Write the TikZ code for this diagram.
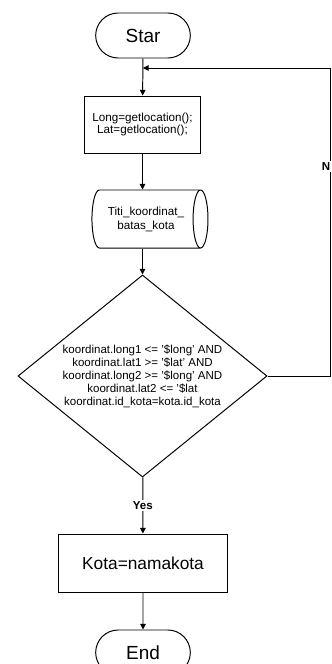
\documentclass[tikz,border=0pt]{standalone}
\usepackage{fontspec}
\setmainfont{Liberation Sans}
\usepackage{tikz}
\usetikzlibrary{shapes,shapes.geometric,shapes.misc,arrows.meta,positioning,calc}

\begin{document}
\begin{tikzpicture}[
    x=0.025cm, y=-0.025cm,
    term/.style={rounded rectangle, draw, line width=0.7pt, minimum width=2.6cm, minimum height=1.125cm, font=\fontsize{13.5}{15}\selectfont},
    proc/.style={rectangle, draw, line width=0.7pt, align=center},
    data/.style={cylinder, draw, line width=0.7pt, aspect=0.6, minimum width=1.45cm, minimum height=2.9cm, inner sep=0pt, align=center, font=\fontsize{8.3}{10}\selectfont},
    decision/.style={diamond, draw, line width=0.7pt, aspect=1.23, inner sep=0pt, minimum width=6.225cm, minimum height=5.05cm, align=center, font=\fontsize{8.2}{9.2}\selectfont},
    arrow/.style={-{Triangle[length=4pt,width=4pt]}, line width=0.7pt},
    lbl/.style={fill=white, inner sep=1pt, font=\fontsize{8.2}{9}\selectfont\bfseries}
]
\useasboundingbox (0,0) rectangle (331,664);

\node[term] (start) at (143,35.5) {Star};

\node[proc, minimum width=2.875cm, minimum height=1.425cm, font=\fontsize{8.3}{8.6}\selectfont] (getloc) at (142.5,124.5) {Long=getlocation();\\Lat=getlocation();};

\node[data] (titik) at (146,219) {Titi\_koordinat\_\\batas\_kota};

\node[decision] (cek) at (142.5,376) {koordinat.long1 <= '\$long' AND\\koordinat.lat1 >= '\$lat' AND\\koordinat.long2 >= '\$long' AND\\koordinat.lat2 <= '\$lat\\koordinat.id\_kota=kota.id\_kota};

\node[proc, minimum width=4.2cm, minimum height=1.45cm, font=\fontsize{12.3}{14}\selectfont] (kota) at (143,563) {Kota=namakota};

\node[term] (end) at (143,652.5) {End};

\coordinate (join) at (143,68);
\coordinate (loop) at (330,68);

% arrows
\draw[arrow] (start) -- (getloc);
\draw[arrow] (getloc) -- (getloc |- titik.north);
\draw[arrow] (cek.north |- titik.south) -- (cek.north);
\draw[arrow] (cek.east) -| node[lbl, pos=0.84, xshift=-0.1cm] {N} (loop) -- (join);
\draw[arrow] (cek) -- node[lbl] {Yes} (kota);
\draw[arrow] (kota) -- (end);

\end{tikzpicture}
\end{document}
